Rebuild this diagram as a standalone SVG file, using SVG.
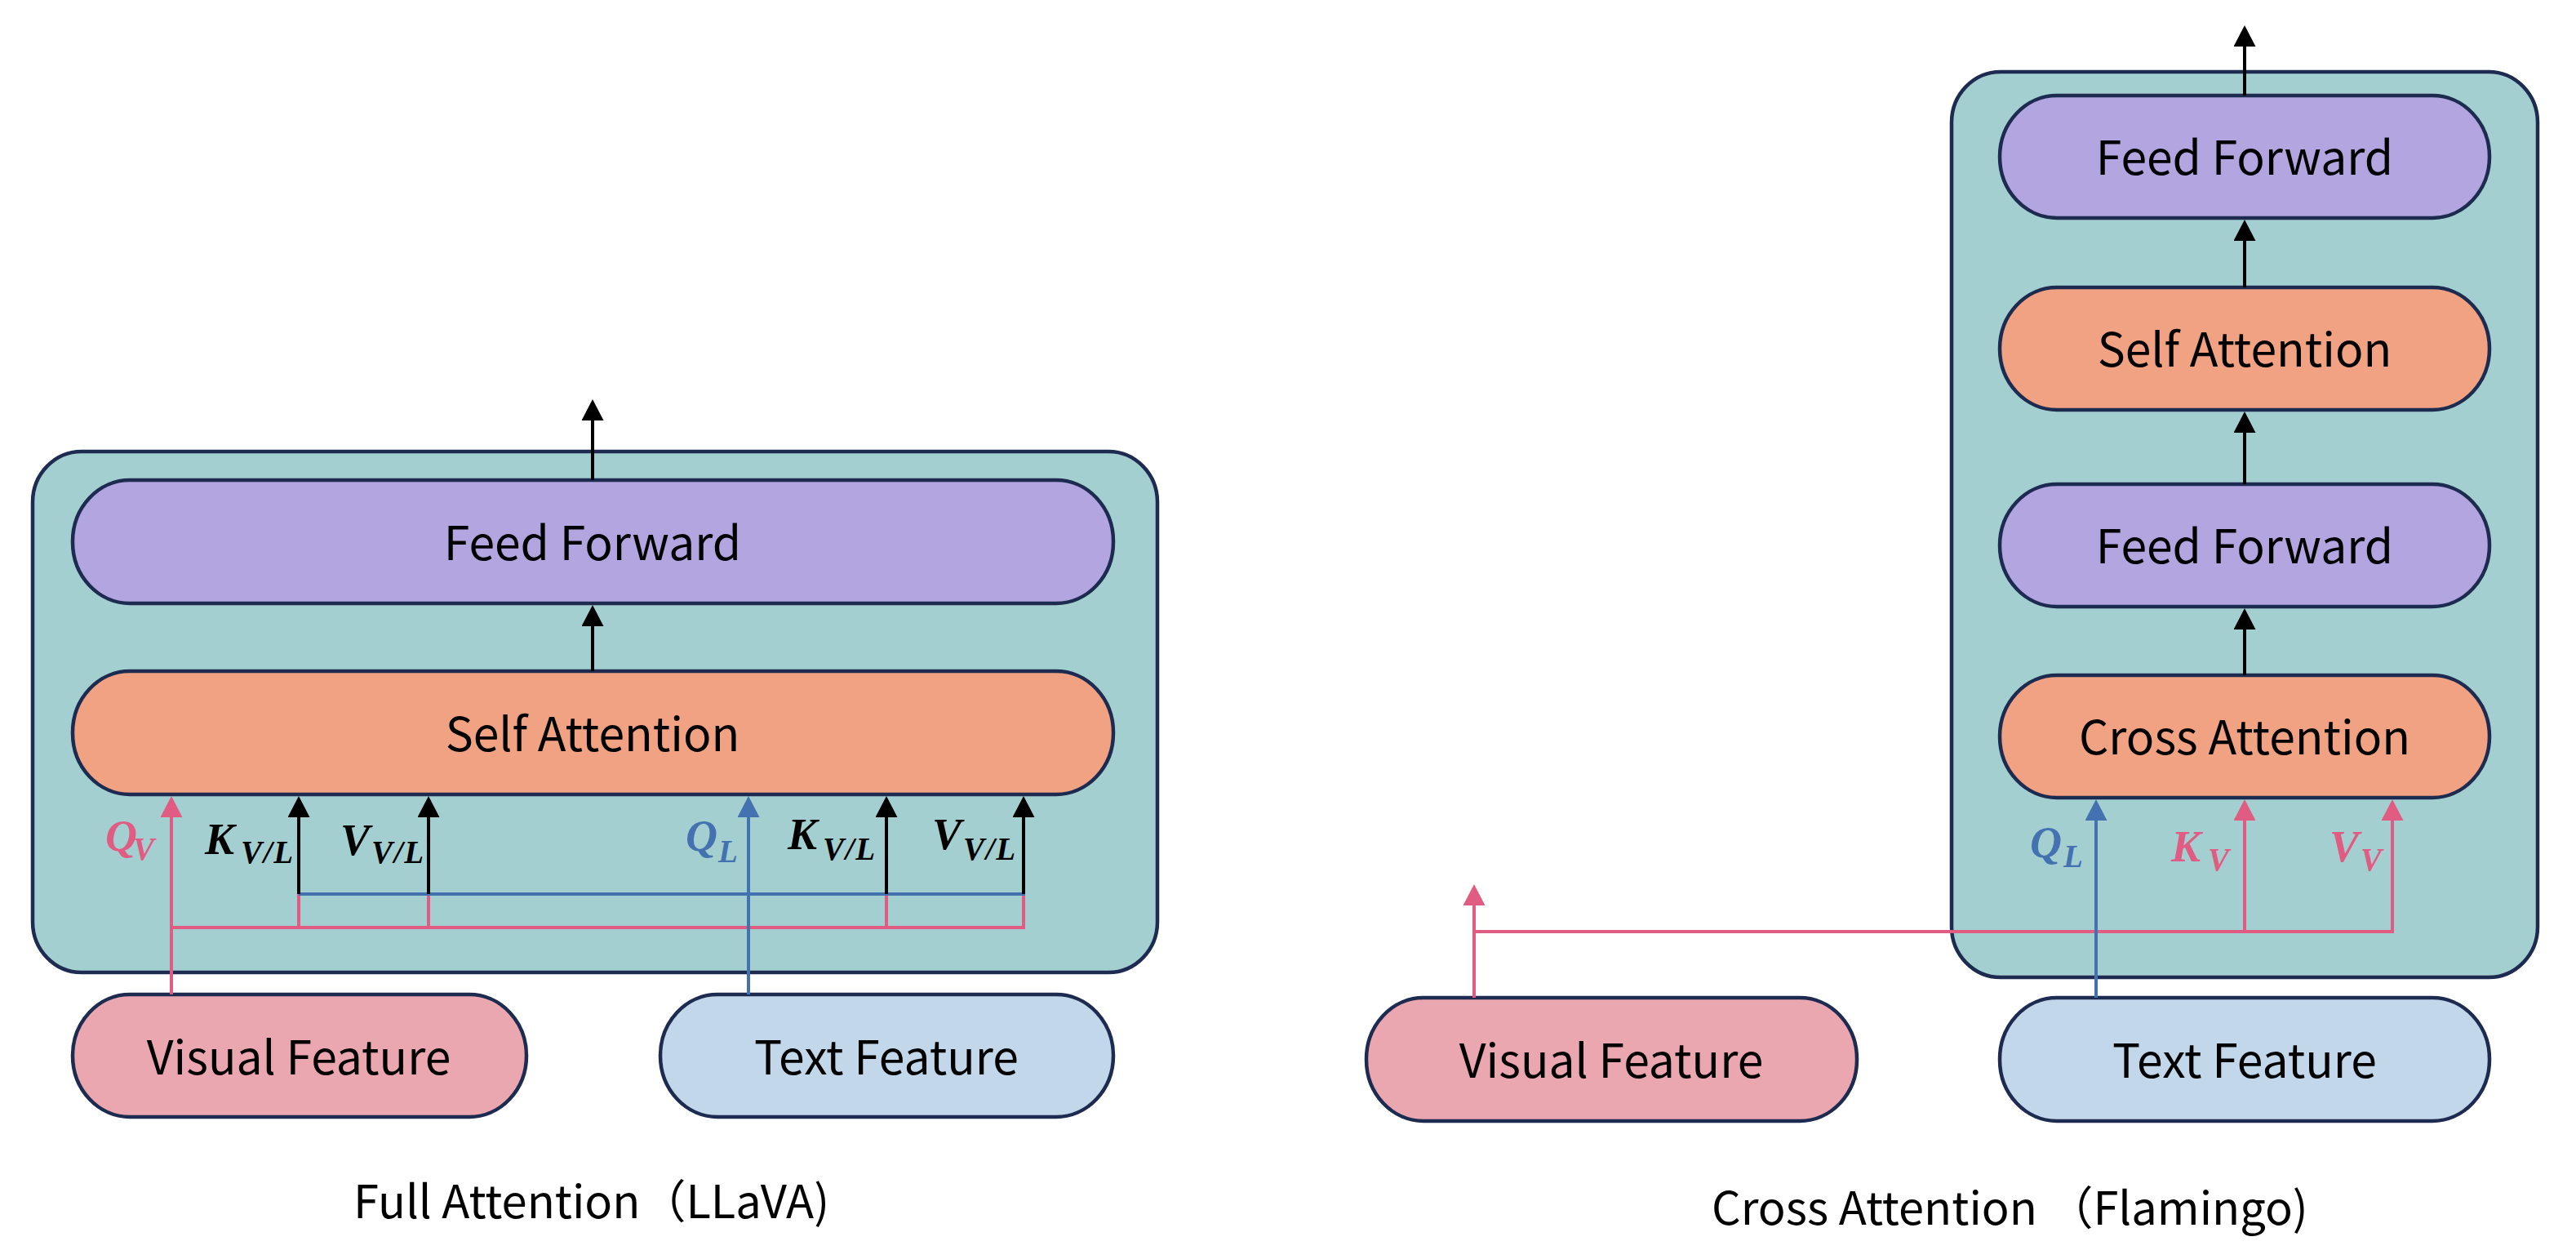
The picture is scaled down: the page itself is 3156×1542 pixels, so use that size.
<svg xmlns="http://www.w3.org/2000/svg" width="3156" height="1542" viewBox="0 0 3156 1542">
<style>
.box{fill:#A4CFD0;stroke:#1E2B50;stroke-width:4.5}
.ff{fill:#B3A6E0;stroke:#1E2B50;stroke-width:4.5}
.att{fill:#F0A282;stroke:#1E2B50;stroke-width:4.5}
.vis{fill:#EBA7B0;stroke:#1E2B50;stroke-width:4.5}
.txt{fill:#C3D7EB;stroke:#1E2B50;stroke-width:4.5}
.lbl{font-family:"Noto Sans CJK SC","Noto Sans",sans-serif;font-size:57px;fill:#000;text-anchor:middle}
.title{font-family:"Noto Sans CJK SC","Noto Sans",sans-serif;font-size:56px;fill:#000}
.k{stroke:#000;stroke-width:4;fill:none}
.p{stroke:#E05C82;stroke-width:4;fill:none}
.b{stroke:#4472B0;stroke-width:4;fill:none}
.m{font-family:"Liberation Serif","DejaVu Serif",serif;font-style:italic;font-weight:bold}
.mm{font-size:54px}
.ms{font-size:39px}
</style>
<defs>
<marker id="ak" markerUnits="userSpaceOnUse" markerWidth="26" markerHeight="27" refX="22" refY="13.5" orient="auto"><path d="M0,0 L26,13.5 L0,27 z" fill="#000"/></marker>
<marker id="ap" markerUnits="userSpaceOnUse" markerWidth="26" markerHeight="27" refX="22" refY="13.5" orient="auto"><path d="M0,0 L26,13.5 L0,27 z" fill="#E05C82"/></marker>
<marker id="ab" markerUnits="userSpaceOnUse" markerWidth="26" markerHeight="27" refX="22" refY="13.5" orient="auto"><path d="M0,0 L26,13.5 L0,27 z" fill="#4472B0"/></marker>
</defs>

<!-- Left panel -->
<g id="left-block"><rect class="box" x="40" y="553" width="1378" height="638" rx="60" ry="62"/></g>
<g id="left-ff"><rect class="ff" x="89" y="588" width="1275" height="151" rx="70" ry="75"/><text class="lbl" x="726" y="686">Feed Forward</text></g>
<g id="left-sa"><rect class="att" x="89" y="822" width="1275" height="151" rx="70" ry="75"/><text class="lbl" x="726" y="920">Self Attention</text></g>
<g id="left-visual"><rect class="vis" x="89" y="1218" width="556" height="150" rx="70" ry="75"/><text class="lbl" x="366" y="1316">Visual Feature</text></g>
<g id="left-text"><rect class="txt" x="809" y="1218" width="555" height="150" rx="70" ry="75"/><text class="lbl" x="1086" y="1316">Text Feature</text></g>

<!-- Right panel -->
<g id="right-block"><rect class="box" x="2391" y="88" width="718" height="1109" rx="60" ry="62"/></g>
<g id="right-ff1"><rect class="ff" x="2450" y="117" width="600" height="150" rx="70" ry="75"/><text class="lbl" x="2750" y="214">Feed Forward</text></g>
<g id="right-sa"><rect class="att" x="2450" y="352" width="600" height="150" rx="70" ry="75"/><text class="lbl" x="2750" y="449">Self Attention</text></g>
<g id="right-ff2"><rect class="ff" x="2450" y="593" width="600" height="150" rx="70" ry="75"/><text class="lbl" x="2750" y="690">Feed Forward</text></g>
<g id="right-ca"><rect class="att" x="2450" y="827" width="600" height="150" rx="70" ry="75"/><text class="lbl" x="2750" y="924">Cross Attention</text></g>
<g id="right-visual"><rect class="vis" x="1674" y="1222" width="601" height="151" rx="70" ry="75"/><text class="lbl" x="1974" y="1320">Visual Feature</text></g>
<g id="right-text"><rect class="txt" x="2450" y="1222" width="600" height="151" rx="70" ry="75"/><text class="lbl" x="2750" y="1320">Text Feature</text></g>

<g id="connectors">
<!-- left -->
<line class="k" x1="726" y1="588" x2="726" y2="493" marker-end="url(#ak)"/>
<line class="k" x1="726" y1="822" x2="726" y2="745" marker-end="url(#ak)"/>
<polyline class="p" points="210,1136 1254,1136"/>
<line class="p" x1="366" y1="1136" x2="366" y2="1095"/>
<line class="p" x1="525" y1="1136" x2="525" y2="1095"/>
<line class="p" x1="1086" y1="1136" x2="1086" y2="1095"/>
<line class="p" x1="1254" y1="1138" x2="1254" y2="1095"/>
<line class="b" x1="366" y1="1095" x2="1256" y2="1095"/>
<line class="k" x1="366" y1="1095" x2="366" y2="979" marker-end="url(#ak)"/>
<line class="k" x1="525" y1="1095" x2="525" y2="979" marker-end="url(#ak)"/>
<line class="k" x1="1086" y1="1095" x2="1086" y2="979" marker-end="url(#ak)"/>
<line class="k" x1="1254" y1="1095" x2="1254" y2="979" marker-end="url(#ak)"/>
<line class="p" x1="210" y1="1218" x2="210" y2="979" marker-end="url(#ap)"/>
<line class="b" x1="917" y1="1218" x2="917" y2="979" marker-end="url(#ab)"/>
<!-- right -->
<line class="k" x1="2750" y1="117" x2="2750" y2="35" marker-end="url(#ak)"/>
<line class="k" x1="2750" y1="352" x2="2750" y2="273" marker-end="url(#ak)"/>
<line class="k" x1="2750" y1="593" x2="2750" y2="508" marker-end="url(#ak)"/>
<line class="k" x1="2750" y1="827" x2="2750" y2="749" marker-end="url(#ak)"/>
<polyline class="p" points="1806,1141 2931,1141"/>
<line class="p" x1="1806" y1="1222" x2="1806" y2="1087" marker-end="url(#ap)"/>
<line class="p" x1="2750" y1="1141" x2="2750" y2="983" marker-end="url(#ap)"/>
<line class="p" x1="2931" y1="1143" x2="2931" y2="983" marker-end="url(#ap)"/>
<line class="b" x1="2568" y1="1222" x2="2568" y2="983" marker-end="url(#ab)"/>
</g>

<g id="labels">
<text class="m" fill="#E05C82"><tspan class="mm" x="129" y="1042">Q</tspan><tspan class="ms" x="163" y="1053">V</tspan></text>
<text class="m" fill="#000"><tspan class="mm" x="251" y="1046">K</tspan><tspan class="ms" x="295" y="1057" textLength="64">V/L</tspan></text>
<text class="m" fill="#000"><tspan class="mm" x="417" y="1047">V</tspan><tspan class="ms" x="455" y="1057" textLength="64">V/L</tspan></text>
<text class="m" fill="#4472B0"><tspan class="mm" x="840" y="1042">Q</tspan><tspan class="ms" x="880" y="1056">L</tspan></text>
<text class="m" fill="#000"><tspan class="mm" x="965" y="1040">K</tspan><tspan class="ms" x="1008" y="1053" textLength="64">V/L</tspan></text>
<text class="m" fill="#000"><tspan class="mm" x="1142" y="1040">V</tspan><tspan class="ms" x="1180" y="1053" textLength="64">V/L</tspan></text>
<text class="m" fill="#4472B0"><tspan class="mm" x="2487" y="1050">Q</tspan><tspan class="ms" x="2528" y="1062">L</tspan></text>
<text class="m" fill="#E05C82"><tspan class="mm" x="2660" y="1055">K</tspan><tspan class="ms" x="2705" y="1066">V</tspan></text>
<text class="m" fill="#E05C82"><tspan class="mm" x="2854" y="1055">V</tspan><tspan class="ms" x="2892" y="1066">V</tspan></text>
</g>

<text class="title" x="433" y="1492">Full Attention（LLaVA)</text>
<text class="title" x="2097" y="1500">Cross Attention （Flamingo)</text>
</svg>
